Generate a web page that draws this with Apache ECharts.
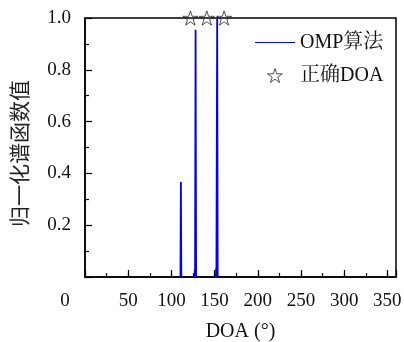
<!DOCTYPE html>
<html>
<head>
<meta charset="utf-8">
<script src="https://cdn.jsdelivr.net/npm/echarts@6/dist/echarts.min.js"></script>
<style>html,body{margin:0;padding:0;background:#fff}#c{width:404px;height:342px}</style>
</head>
<body>
<div id="c"></div>
<script>
// Spectrum (OMP) samples: angle (deg) and normalized value; null breaks the line
const spectrumAngles = [110.5, 111, 111.5, null, 126.8, 127.1, 127.4, 128, 128.6, null, 151.5, 151.8, 152.1, 153, 153.6];
const spectrumValues = [0, 0.367, 0, null, 0, 0.03, 0, 0.955, 0, null, 0, 0.035, 0, 1.0, 0];
// True DOAs (stars)
const trueDoaAngles = [122, 141, 161];
const trueDoaValues = [1, 1, 1];
// Tick labels
const xTickLabels = [0, 50, 100, 150, 200, 250, 300, 350];
const yTickLabels = [0.2, 0.4, 0.6, 0.8, 1.0];
const seriesNames = ['OMP算法', '正确DOA'];

const starPath = 'path://M50 0 L61.23 34.55 L97.55 34.55 L68.16 55.9 L79.39 90.45 L50 69.1 L20.61 90.45 L31.84 55.9 L2.45 34.55 L38.77 34.55 Z';
const serif = "'Liberation Serif', 'Noto Serif CJK SC', 'Noto Sans CJK SC', serif";

const lineData = spectrumAngles.map((a, i) => a === null ? ['-', '-'] : [a, spectrumValues[i]]);
const starData = trueDoaAngles.map((a, i) => [a, trueDoaValues[i]]);

const chart = echarts.init(document.getElementById('c'), null, {renderer: 'canvas'});
chart.setOption({
  animation: false,
  backgroundColor: '#fff',
  grid: {left: 85, right: 8, top: 18, bottom: 65, containLabel: false, outerBoundsMode: 'none',
         show: true, borderColor: '#000', borderWidth: 1.5, backgroundColor: 'transparent'},
  legend: {
    orient: 'vertical', left: 250, top: 27, itemWidth: 40, itemHeight: 14, itemGap: 12,
    textStyle: {fontFamily: serif, fontSize: 20, color: '#111', lineHeight: 21},
    data: [
      {name: seriesNames[0], icon: 'path://M0 0 L40 0 L40 1 L0 1 Z', itemStyle: {color: '#0000ff', borderWidth: 0}},
      {name: seriesNames[1], icon: starPath, itemStyle: {color: 'transparent', borderColor: '#222', borderWidth: 1}}
    ]
  },
  xAxis: [{
    type: 'value', min: 0, max: 360, interval: 50,
    name: 'DOA (°)', nameLocation: 'middle', nameGap: 45,
    nameTextStyle: {fontFamily: serif, fontSize: 20, color: '#111'},
    axisLine: {lineStyle: {color: '#000', width: 1.5}},
    axisTick: {inside: true, length: 7, lineStyle: {color: '#000', width: 1.2}},
    splitLine: {show: false},
    axisLabel: {
      margin: 15, fontFamily: serif, fontSize: 19, color: '#111',
      formatter: v => xTickLabels.indexOf(v) < 0 ? '' : (v === 0 ? '{z|0}' : String(v)),
      rich: {z: {fontFamily: serif, fontSize: 19, color: '#111', padding: [0, 40, 0, 0]}}
    }
  }, {
    type: 'value', min: 0, max: 360, interval: 25, position: 'bottom',
    axisLine: {show: false}, axisLabel: {show: false}, splitLine: {show: false},
    axisTick: {inside: true, length: 4, lineStyle: {color: '#000', width: 1.2}}
  }],
  yAxis: {
    type: 'value', min: 0, max: 1, interval: 0.2,
    name: '归一化谱函数值', nameLocation: 'middle', nameGap: 55, nameRotate: 90,
    nameTextStyle: {fontFamily: "'Noto Sans CJK SC', sans-serif", fontSize: 21, color: '#222', padding: [0, 12, 0, 0]},
    axisLine: {show: true, lineStyle: {color: '#000', width: 1.5}},
    axisTick: {show: true, inside: true, length: 7, lineStyle: {color: '#000', width: 1.2}},
    minorTick: {show: true, splitNumber: 2, length: 4, lineStyle: {color: '#000', width: 1.2}},
    splitLine: {show: false},
    axisLabel: {
      margin: 14, fontFamily: serif, fontSize: 19, color: '#111',
      formatter: v => { const f = yTickLabels.find(t => Math.abs(t - v) < 1e-9); return f === undefined ? '' : f.toFixed(1); }
    }
  },
  series: [{
    name: seriesNames[0], type: 'line', data: lineData, showSymbol: false, symbol: 'none',
    connectNulls: false, xAxisIndex: 0,
    lineStyle: {color: '#0000ff', width: 1.8}, itemStyle: {color: '#0000ff'}
  }, {
    name: seriesNames[1], type: 'scatter', data: starData, symbol: starPath, symbolSize: 15,
    symbolKeepAspect: true, clip: false, xAxisIndex: 0, z: 5,
    itemStyle: {color: 'transparent', borderColor: '#222', borderWidth: 1}
  }]
});
</script>
</body>
</html>
